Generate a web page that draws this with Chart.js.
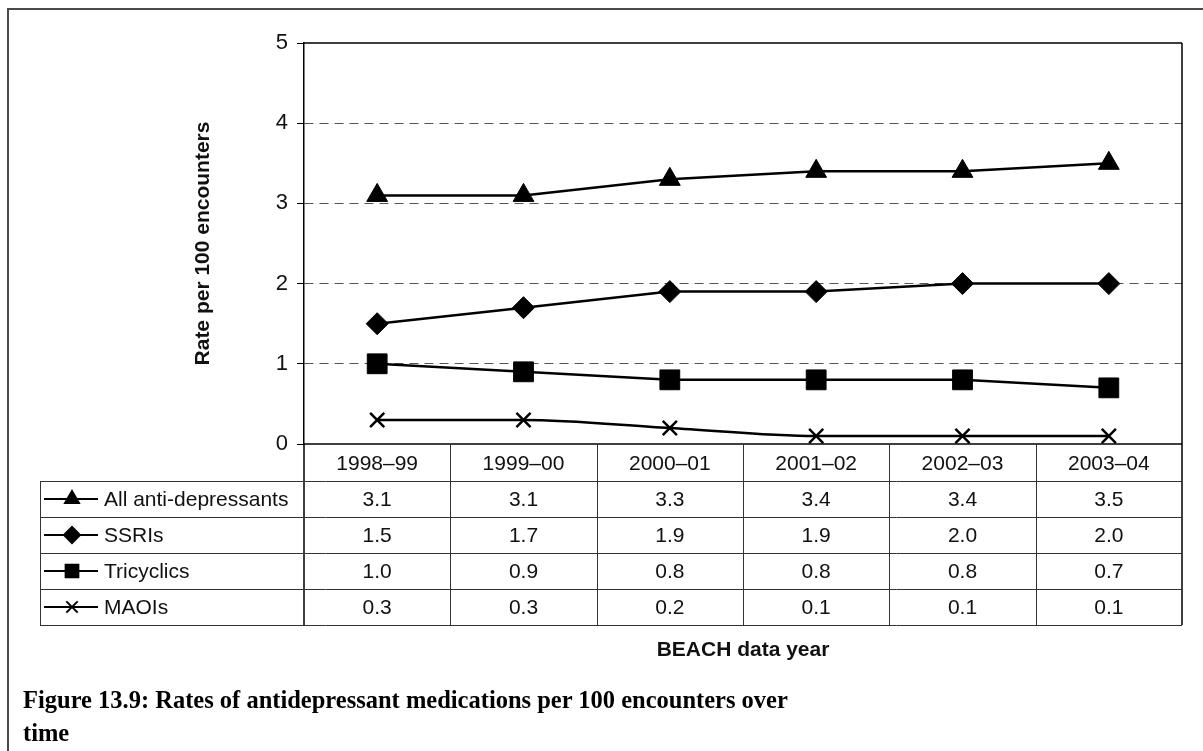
<!DOCTYPE html>
<html>
<head>
<meta charset="utf-8">
<script src="https://cdn.jsdelivr.net/npm/chart.js@4.4.1/dist/chart.umd.min.js"></script>
<style>
  html, body { margin: 0; padding: 0; background: #fff; }
  body { width: 1203px; height: 751px; overflow: hidden; position: relative; }
  #frame { position: absolute; left: 7px; top: 8px; width: 1300px; height: 900px; border: 2px solid #4a4a4a; box-sizing: border-box; }
  #chart { position: absolute; left: 0; top: 0; }
  .caption { position: absolute; left: 23px; font-family: "Liberation Serif", serif; font-weight: bold; font-size: 24.5px; color: #000; white-space: nowrap; }
</style>
</head>
<body>
<div id="frame"></div>
<canvas id="chart" width="1203" height="751"></canvas>
<div class="caption" style="top:686px">Figure 13.9: Rates of antidepressant medications per 100 encounters over</div>
<div class="caption" style="top:719px">time</div>
<script>
// data
const years = ['1998–99', '1999–00', '2000–01', '2001–02', '2002–03', '2003–04'];
const seriesNames = ['All anti-depressants', 'SSRIs', 'Tricyclics', 'MAOIs'];
const allAntidepressants = [3.1, 3.1, 3.3, 3.4, 3.4, 3.5];
const ssris = [1.5, 1.7, 1.9, 1.9, 2.0, 2.0];
const tricyclics = [1.0, 0.9, 0.8, 0.8, 0.8, 0.7];
const maois = [0.3, 0.3, 0.2, 0.1, 0.1, 0.1];
const yTicks = [0, 1, 2, 3, 4, 5];

const sans = '"Liberation Sans", Arial, sans-serif';
const tableFont = '21px ' + sans;
const headerBottom = 481;
const rowH = 36;
const tableLeft = 40;

function makeSet(label, data, style, radius, smooth) {
    return {
        label: label,
        data: data,
        borderColor: '#000',
        backgroundColor: '#000',
        borderWidth: 2.5,
        pointStyle: style,
        pointRadius: radius,
        pointBorderWidth: style === 'crossRot' ? 2.5 : 1,
        pointBackgroundColor: '#000',
        pointBorderColor: '#000',
        cubicInterpolationMode: smooth ? 'monotone' : 'default',
        tension: 0,
        legendRadius: style === 'rect' ? 9 : 8
    };
}

// plot frame + data table under the axis
const tablePlugin = {
    id: 'dataTable',
    afterDraw(chart) {
        const ctx = chart.ctx;
        const a = chart.chartArea;
        const xs = chart.scales.x;
        const n = years.length;
        const half = (xs.getPixelForValue(1) - xs.getPixelForValue(0)) / 2;
        const tableBottom = headerBottom + rowH * seriesNames.length;

        ctx.save();
        ctx.strokeStyle = '#000';
        ctx.lineWidth = 1.5;
        ctx.beginPath();
        ctx.moveTo(a.left, a.top); ctx.lineTo(a.right, a.top);
        ctx.moveTo(a.right, a.top); ctx.lineTo(a.right, tableBottom);
        ctx.moveTo(a.left, a.bottom); ctx.lineTo(a.right, a.bottom);
        ctx.moveTo(a.left, a.bottom); ctx.lineTo(a.left, tableBottom);
        ctx.stroke();

        ctx.strokeStyle = '#333';
        ctx.lineWidth = 1;
        ctx.beginPath();
        for (let k = 0; k <= seriesNames.length; k++) {
            const y = Math.round(headerBottom + rowH * k) + 0.5;
            ctx.moveTo(tableLeft, y); ctx.lineTo(a.right, y);
        }
        ctx.moveTo(tableLeft + 0.5, headerBottom); ctx.lineTo(tableLeft + 0.5, tableBottom);
        for (let i = 1; i < n; i++) {
            const x = Math.round(xs.getPixelForValue(i) - half) + 0.5;
            ctx.moveTo(x, a.bottom); ctx.lineTo(x, tableBottom);
        }
        ctx.stroke();

        ctx.font = tableFont;
        ctx.textBaseline = 'middle';
        chart.data.datasets.forEach(function(ds, r) {
            const cy = headerBottom + rowH * r + rowH / 2;
            // legend key
            ctx.strokeStyle = '#000';
            ctx.lineWidth = 2;
            ctx.beginPath();
            ctx.moveTo(44, cy); ctx.lineTo(98, cy);
            ctx.stroke();
            ctx.fillStyle = '#000';
            Chart.helpers.drawPoint(ctx, {
                pointStyle: ds.pointStyle, radius: ds.legendRadius, rotation: 0,
                borderWidth: ds.pointStyle === 'crossRot' ? 2 : 1
            }, 72, cy);
            ctx.fillStyle = '#111';
            ctx.textAlign = 'left';
            ctx.fillText(ds.label, 104, cy + 1);
            ctx.textAlign = 'center';
            ds.data.forEach(function(v, i) {
                ctx.fillText(v.toFixed(1), xs.getPixelForValue(i), cy + 1);
            });
        });
        ctx.restore();
    }
};

new Chart(document.getElementById('chart'), {
    type: 'line',
    data: {
        labels: years,
        datasets: [
            makeSet(seriesNames[0], allAntidepressants, 'triangle', 12, false),
            makeSet(seriesNames[1], ssris, 'rectRot', 11, false),
            makeSet(seriesNames[2], tricyclics, 'rect', 14, false),
            makeSet(seriesNames[3], maois, 'crossRot', 10, true)
        ]
    },
    options: {
        responsive: false,
        animation: false,
        layout: { padding: { top: 43, right: 21, bottom: 0, left: 0 } },
        plugins: { legend: { display: false }, tooltip: { enabled: false } },
        scales: {
            x: {
                offset: true,
                grid: { display: false, drawTicks: false },
                border: { display: false },
                ticks: { color: '#111', font: { family: sans, size: 21 }, padding: 8, maxRotation: 0 },
                title: {
                    display: true, text: 'BEACH data year', color: '#111',
                    font: { family: sans, size: 21, weight: 'bold' },
                    padding: { top: 0, bottom: 88 }
                },
                afterFit(scale) { scale.height = 307; }
            },
            y: {
                min: 0, max: 5,
                afterBuildTicks(scale) { scale.ticks = yTicks.map(v => ({ value: v })); },
                grid: {
                    color: c => (c.tick.value > 0 && c.tick.value < 5) ? '#555' : 'rgba(0,0,0,0)',
                    lineWidth: 1,
                    tickColor: '#000',
                    tickLength: 7,
                    tickBorderDash: []
                },
                border: { color: '#000', width: 1.5, dash: [9, 6] },
                ticks: { color: '#111', font: { family: sans, size: 22 }, padding: 9 },
                title: {
                    display: true, text: 'Rate per 100 encounters', color: '#111',
                    font: { family: sans, size: 21, weight: 'bold' },
                    padding: { top: 191, bottom: 0 }
                },
                afterFit(scale) { scale.width = 304; }
            }
        }
    },
    plugins: [tablePlugin]
});
</script>
</body>
</html>
